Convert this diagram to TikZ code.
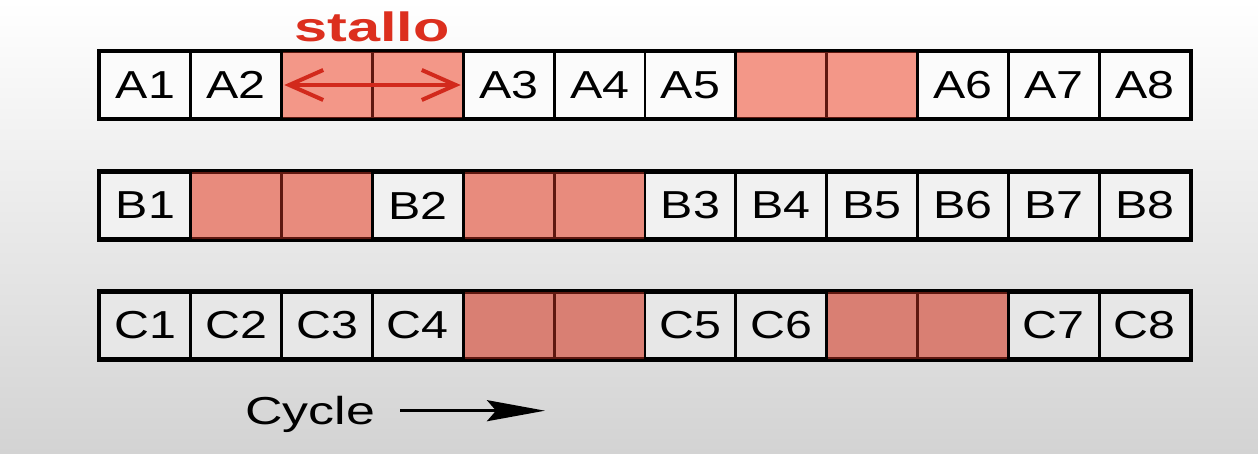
\documentclass[tikz,border=0pt]{standalone}
\usepackage{fontspec}
\setmainfont{Liberation Sans}
\usepackage{graphicx}
\usetikzlibrary{arrows.meta}
\definecolor{bgbot}{HTML}{D3D3D3}
\definecolor{stA}{HTML}{F39788}
\definecolor{stB}{HTML}{E88B7D}
\definecolor{stC}{HTML}{D97F73}
\definecolor{wA}{HTML}{FBFBFB}
\definecolor{wB}{HTML}{F1F1F1}
\definecolor{wC}{HTML}{E7E7E7}
\definecolor{stdraw}{HTML}{5E1810}
\definecolor{redtxt}{HTML}{DC2F1E}
\definecolor{redarrow}{HTML}{D2291C}
\newcommand{\wid}[1]{\scalebox{1.24}[1]{#1}}
\tikzset{
  cellbox/.style={line width=2.8pt, minimum width=90.83pt, minimum height=66.5pt,
    inner sep=0pt, font=\fontsize{39}{44}\selectfont},
  wcell/.style={cellbox, draw=black},
  scell/.style={cellbox, draw=stdraw},
  rowframe/.style={draw=black, line width=2.8pt},
  stalloarrow/.style={draw=redarrow, line width=4pt,
    arrows={Straight Barb[length=34pt,width=30pt]-Straight Barb[length=34pt,width=30pt]}},
  cyclearrow/.style={draw=black, line width=3pt, arrows={-Stealth[length=58pt,width=21pt,inset=9pt]}}
}
\begin{document}
\begin{tikzpicture}[x=1pt,y=-1pt]
\shade[top color=white, bottom color=bgbot] (0,0) rectangle (1258,454);
% row A stall cells
\node[scell, fill=stA] (a3) at (327.1,85) {};
\node[scell, fill=stA] (a4) at (417.9,85) {};
\node[scell, fill=stA] (a8) at (781.3,85) {};
\node[scell, fill=stA] (a9) at (872.1,85) {};
% row A work cells
\node[wcell, fill=wA] (a1) at (145.4,85) {\wid{A1}};
\node[wcell, fill=wA] (a2) at (236.2,85) {\wid{A2}};
\node[wcell, fill=wA] (a5) at (508.7,85) {\wid{A3}};
\node[wcell, fill=wA] (a6) at (599.6,85) {\wid{A4}};
\node[wcell, fill=wA] (a7) at (690.4,85) {\wid{A5}};
\node[wcell, fill=wA] (a10) at (962.9,85) {\wid{A6}};
\node[wcell, fill=wA] (a11) at (1053.8,85) {\wid{A7}};
\node[wcell, fill=wA] (a12) at (1144.6,85) {\wid{A8}};
\draw[rowframe] (a1.north west) rectangle (a12.south east);
% row B
\node[scell, fill=stB] (b2) at (236.2,205.5) {};
\node[scell, fill=stB] (b3) at (327.1,205.5) {};
\node[scell, fill=stB] (b5) at (508.7,205.5) {};
\node[scell, fill=stB] (b6) at (599.6,205.5) {};
\node[wcell, fill=wB] (b1) at (145.4,205.5) {\wid{B1}};
\node[wcell, fill=wB] (b4) at (417.9,205.5) {\wid{B2}};
\node[wcell, fill=wB] (b7) at (690.4,205.5) {\wid{B3}};
\node[wcell, fill=wB] (b8) at (781.3,205.5) {\wid{B4}};
\node[wcell, fill=wB] (b9) at (872.1,205.5) {\wid{B5}};
\node[wcell, fill=wB] (b10) at (962.9,205.5) {\wid{B6}};
\node[wcell, fill=wB] (b11) at (1053.8,205.5) {\wid{B7}};
\node[wcell, fill=wB] (b12) at (1144.6,205.5) {\wid{B8}};
\draw[rowframe] (b1.north west) rectangle (b12.south east);
% row C
\node[scell, fill=stC] (c5) at (508.7,325.5) {};
\node[scell, fill=stC] (c6) at (599.6,325.5) {};
\node[scell, fill=stC] (c9) at (872.1,325.5) {};
\node[scell, fill=stC] (c10) at (962.9,325.5) {};
\node[wcell, fill=wC] (c1) at (145.4,325.5) {\wid{C1}};
\node[wcell, fill=wC] (c2) at (236.2,325.5) {\wid{C2}};
\node[wcell, fill=wC] (c3) at (327.1,325.5) {\wid{C3}};
\node[wcell, fill=wC] (c4) at (417.9,325.5) {\wid{C4}};
\node[wcell, fill=wC] (c7) at (690.4,325.5) {\wid{C5}};
\node[wcell, fill=wC] (c8) at (781.3,325.5) {\wid{C6}};
\node[wcell, fill=wC] (c11) at (1053.8,325.5) {\wid{C7}};
\node[wcell, fill=wC] (c12) at (1144.6,325.5) {\wid{C8}};
\draw[rowframe] (c1.north west) rectangle (c12.south east);
% stallo label and arrow
\node[anchor=base, text=redtxt, font=\bfseries\fontsize{41}{46}\selectfont, inner sep=0pt] (stallo) at (372,41.7) {\scalebox{1.45}[1]{stallo}};
\draw[stalloarrow, shorten <=4pt, shorten >=4pt] (a3.west) -- (a4.east);
% cycle label and arrow
\node[anchor=base west, font=\fontsize{39}{45}\selectfont, inner sep=0pt] (cyc) at (245,424) {\scalebox{1.33}[1]{Cycle}};
\coordinate (cs) at (400,410.7);
\coordinate (ce) at (545,410.7);
\draw[cyclearrow] (cs) -- (ce);
\end{tikzpicture}
\end{document}
